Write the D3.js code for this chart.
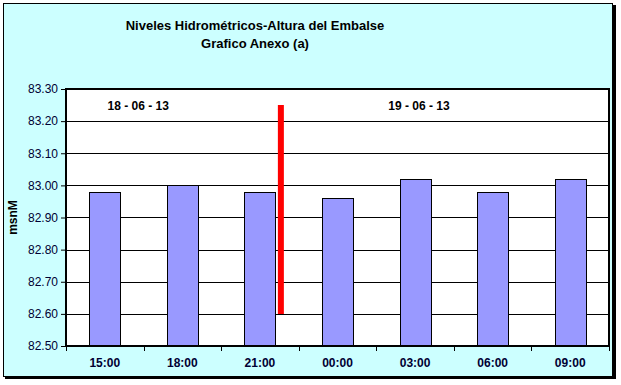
<!DOCTYPE html>
<html lang="es">
<head>
  <meta charset="UTF-8">
  <style>
    body { margin: 0; padding: 0; background: #ffffff; }
    svg { display: block; font-family: "Liberation Sans", Arial, sans-serif; }
  </style>
</head>
<body>
  <svg id="chart"></svg>

  <script src="https://d3js.org/d3.v7.min.js"></script>
  <script>
    // datos
    let horas = ["15:00", "18:00", "21:00", "00:00", "03:00", "06:00", "09:00"];
    let niveles = [82.98, 83.00, 82.98, 82.96, 83.02, 82.98, 83.02];
    let yTicks = [82.50, 82.60, 82.70, 82.80, 82.90, 83.00, 83.10, 83.20, 83.30];
    let fechas = ["18 - 06 - 13", "19 - 06 - 13"];
    let fechaPos = [0.93, 4.55];         // posicion en categorias
    let separador = [82.60, 83.25];      // linea roja, nivel inferior y superior
    let separadorPos = 2.77;             // posicion en categorias

    let width = 621, height = 385;
    let margin = { left: 66, right: 12, top: 89, bottom: 39 };

    let svg = d3.select("#chart")
        .attr("width", width)
        .attr("height", height);

    // marco exterior con sombra
    svg.append("rect")
        .attr("x", 5).attr("y", 5)
        .attr("width", 611).attr("height", 374)
        .attr("fill", "black");
    svg.append("rect")
        .attr("x", 3.5).attr("y", 3.5)
        .attr("width", 609).attr("height", 373)
        .attr("fill", "#ccffff")
        .attr("stroke", "black")
        .attr("stroke-width", 1);

    let x = d3.scaleBand()
        .domain(horas)
        .range([margin.left, width - margin.right])
        .paddingInner(0.6)
        .paddingOuter(0.3);

    let y = d3.scaleLinear()
        .domain([82.5, 83.3])
        .range([height - margin.bottom, margin.top]);

    let step = x.step();
    let x0 = margin.left;
    let catX = c => x0 + c * step;

    // area del grafico
    svg.append("rect")
        .attr("x", margin.left).attr("y", margin.top)
        .attr("width", width - margin.left - margin.right)
        .attr("height", height - margin.top - margin.bottom)
        .attr("fill", "white");

    // lineas de division
    svg.append("g")
        .selectAll("line")
        .data(yTicks)
        .enter()
        .append("line")
        .attr("x1", margin.left)
        .attr("x2", width - margin.right)
        .attr("y1", d => Math.round(y(d)) + 0.5)
        .attr("y2", d => Math.round(y(d)) + 0.5)
        .attr("stroke", "black")
        .attr("stroke-width", 1);

    // barras
    svg.append("g")
        .selectAll("rect")
        .data(niveles)
        .enter()
        .append("rect")
        .attr("x", (d, i) => Math.round(x(horas[i])) + 0.5)
        .attr("y", d => Math.round(y(d)) + 0.5)
        .attr("width", Math.round(x.bandwidth()))
        .attr("height", d => Math.round(y(82.5)) - Math.round(y(d)))
        .attr("fill", "#9999ff")
        .attr("stroke", "black")
        .attr("stroke-width", 1);

    // linea roja de cambio de dia
    svg.append("line")
        .attr("x1", catX(separadorPos))
        .attr("x2", catX(separadorPos))
        .attr("y1", y(separador[0]))
        .attr("y2", y(separador[1]))
        .attr("stroke", "#ff0000")
        .attr("stroke-width", 6);

    // borde del area
    svg.append("rect")
        .attr("x", margin.left).attr("y", margin.top)
        .attr("width", width - margin.left - margin.right)
        .attr("height", height - margin.top - margin.bottom)
        .attr("fill", "none")
        .attr("stroke", "black")
        .attr("stroke-width", 2);

    // fechas
    svg.append("g")
        .selectAll("text")
        .data(fechas)
        .enter()
        .append("text")
        .attr("x", (d, i) => catX(fechaPos[i]))
        .attr("y", 110)
        .attr("text-anchor", "middle")
        .attr("font-size", "12px")
        .attr("font-weight", "bold")
        .text(d => d);

    // eje y
    let yAxis = svg.append("g")
        .attr("transform", "translate(" + margin.left + ",0)")
        .call(d3.axisLeft(y).tickValues(yTicks).tickFormat(d3.format(".2f")).tickSize(5).tickPadding(3));
    yAxis.select(".domain").remove();
    yAxis.selectAll("line").attr("stroke", "black");
    yAxis.selectAll("text")
        .attr("font-size", "12px")
        .attr("font-family", "Liberation Sans, Arial, sans-serif")
        .attr("fill", "#000033");

    // eje x
    let bottomY = height - margin.bottom;
    svg.append("g")
        .selectAll("line")
        .data(d3.range(horas.length + 1))
        .enter()
        .append("line")
        .attr("x1", d => Math.round(catX(d)) + 0.5)
        .attr("x2", d => Math.round(catX(d)) + 0.5)
        .attr("y1", bottomY)
        .attr("y2", bottomY + 5)
        .attr("stroke", "black");

    svg.append("g")
        .selectAll("text")
        .data(horas)
        .enter()
        .append("text")
        .attr("x", d => x(d) + x.bandwidth() / 2)
        .attr("y", bottomY + 21)
        .attr("text-anchor", "middle")
        .attr("font-size", "12px")
        .attr("font-weight", "bold")
        .attr("fill", "#000033")
        .text(d => d);

    // titulo eje y
    svg.append("text")
        .attr("transform", "translate(17," + ((margin.top + bottomY) / 2) + ") rotate(-90)")
        .attr("text-anchor", "middle")
        .attr("font-size", "12px")
        .attr("font-weight", "bold")
        .text("msnM");

    // titulo
    svg.append("text")
        .attr("x", 255).attr("y", 30)
        .attr("text-anchor", "middle")
        .attr("font-size", "13px")
        .attr("font-weight", "bold")
        .text("Niveles Hidrométricos-Altura del Embalse");
    svg.append("text")
        .attr("x", 255).attr("y", 48)
        .attr("text-anchor", "middle")
        .attr("font-size", "13px")
        .attr("font-weight", "bold")
        .text("Grafico Anexo (a)");
  </script>
</body>
</html>
